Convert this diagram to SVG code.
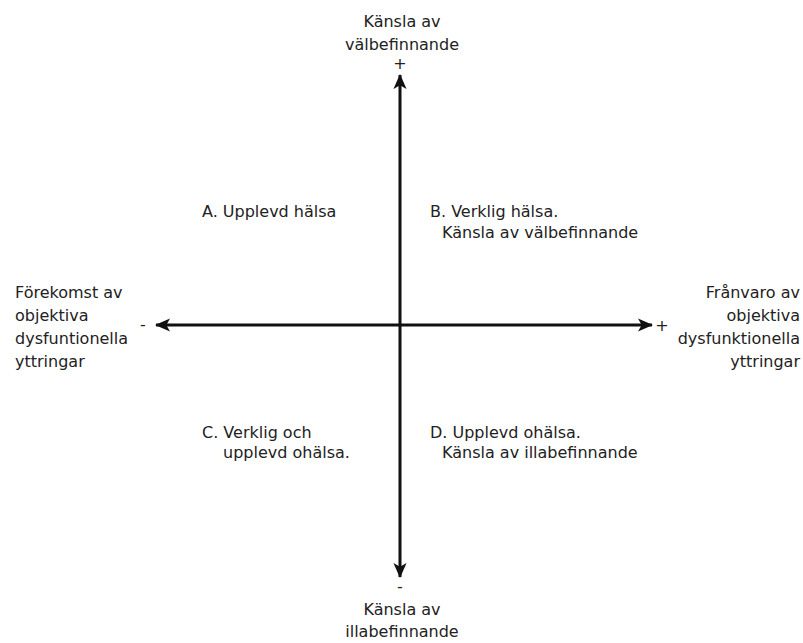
<svg xmlns="http://www.w3.org/2000/svg" width="803" height="643" viewBox="0 0 803 643">
<style>
text{font-family:"DejaVu Sans","Liberation Sans",sans-serif;font-size:16px;fill:#222}
.ax{stroke:#111;stroke-width:3;fill:none}
.m{text-anchor:middle}
.e{text-anchor:end}
</style>
<defs>
<marker id="ah" viewBox="0 0 16 16" refX="15" refY="8" markerWidth="15" markerHeight="15" markerUnits="userSpaceOnUse" orient="auto-start-reverse">
<path d="M0,1 L16,8 L0,15 L4,8 Z" fill="#111"/>
</marker>
</defs>
<rect width="803" height="643" fill="#fff"/>
<g id="connectors">
<line class="ax" x1="400" y1="75" x2="400" y2="577" marker-start="url(#ah)" marker-end="url(#ah)"/>
<line class="ax" x1="156" y1="325" x2="652" y2="325" marker-start="url(#ah)" marker-end="url(#ah)"/>
</g>
<g id="top"><text class="m" x="402" y="27">Känsla av</text><text class="m" x="402" y="50">välbefinnande</text><text class="m" x="400" y="69">+</text></g>
<g id="bottom"><text class="m" x="400" y="592">-</text><text class="m" x="402" y="615">Känsla av</text><text class="m" x="402" y="637">illabefinnande</text></g>
<g id="left"><text x="15" y="298">Förekomst av</text><text x="15" y="321">objektiva</text><text x="15" y="344">dysfuntionella</text><text x="15" y="367">yttringar</text><text x="140" y="330">-</text></g>
<g id="right"><text class="e" x="800" y="298">Frånvaro av</text><text class="e" x="800" y="321">objektiva</text><text class="e" x="800" y="344">dysfunktionella</text><text class="e" x="800" y="367">yttringar</text><text class="m" x="662" y="331">+</text></g>
<g id="A"><text x="202" y="217">A. Upplevd hälsa</text></g>
<g id="B"><text x="430" y="217">B. Verklig hälsa.</text><text x="442" y="238">Känsla av välbefinnande</text></g>
<g id="C"><text x="202" y="438">C. Verklig och</text><text x="223" y="458">upplevd ohälsa.</text></g>
<g id="D"><text x="430" y="438">D. Upplevd ohälsa.</text><text x="442" y="458">Känsla av illabefinnande</text></g>
</svg>
